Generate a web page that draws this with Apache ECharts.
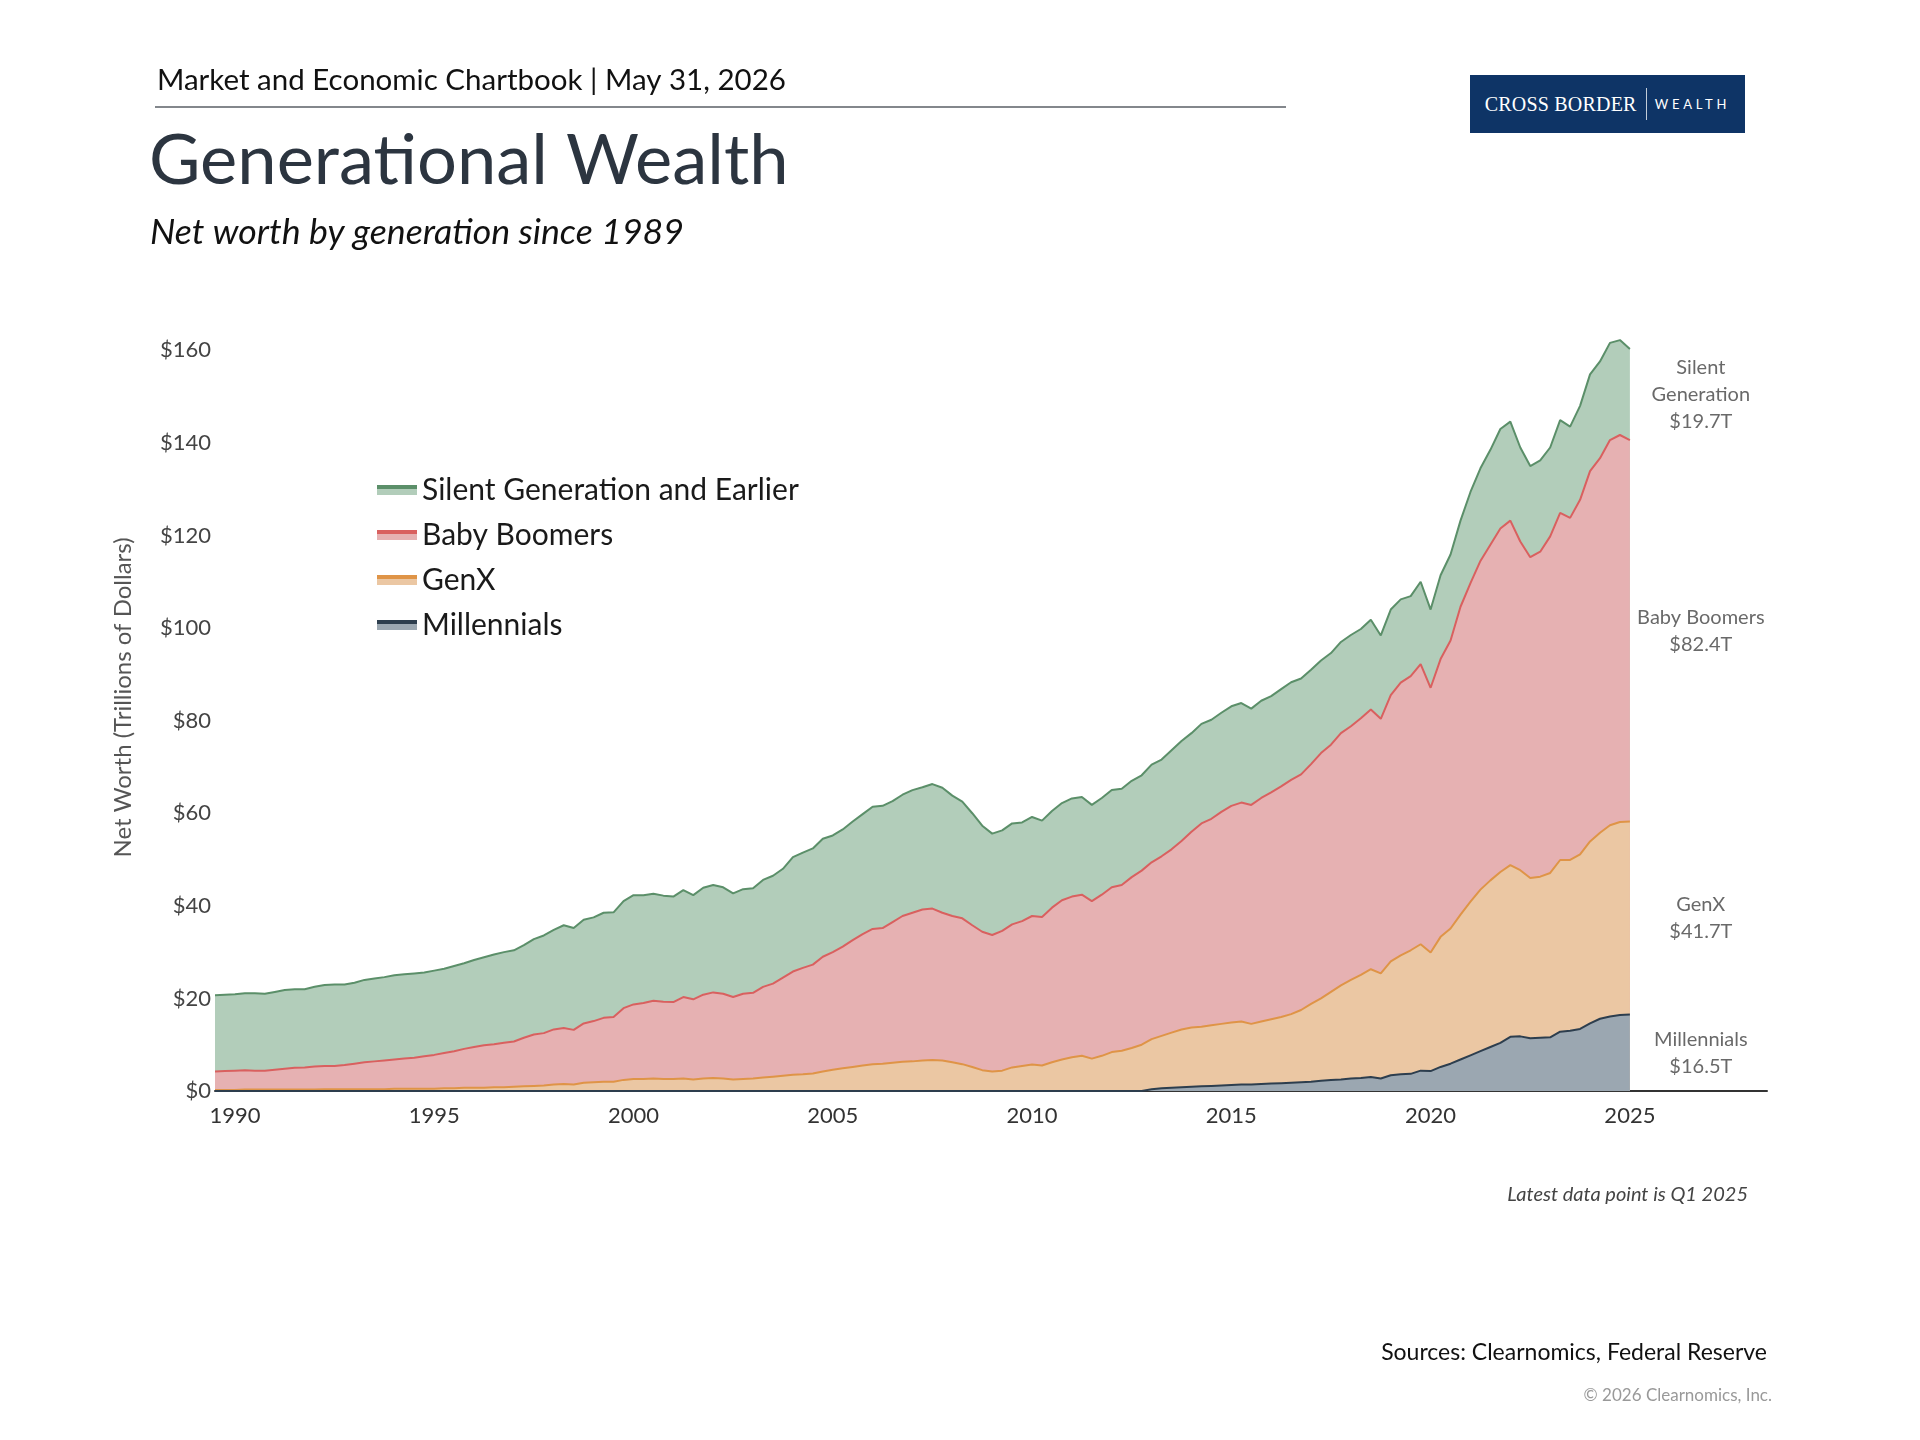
<!DOCTYPE html>
<html>
<head>
<meta charset="utf-8">
<title>Generational Wealth</title>
<script src="https://cdn.jsdelivr.net/npm/echarts@6/dist/echarts.min.js"></script>
<style>
  html, body { margin: 0; padding: 0; background: #fff; }
  #wrap { position: relative; width: 1920px; height: 1440px; }
  #main { width: 1920px; height: 1440px; }
  #logo {
    position: absolute; left: 1470px; top: 75px; width: 275px; height: 58px;
    background: #0e3466; color: #fff;
    display: flex; align-items: center; justify-content: center;
  }
  #logo .cb { font-family: "Liberation Serif", serif; font-size: 20px; letter-spacing: 0.2px; }
  #logo .bar { width: 1px; height: 32px; background: rgba(255,255,255,0.75); margin: 0 8px 0 9px; }
  #logo .w { font-family: Lato, sans-serif; font-size: 13px; letter-spacing: 3.8px; }
</style>
</head>
<body>
<div id="wrap">
  <div id="main"></div>
  <div id="logo"><span class="cb">CROSS BORDER</span><span class="bar"></span><span class="w">WEALTH</span></div>
</div>
<script>
var FONT = 'Lato, "Noto Sans", sans-serif';

// quarterly data, 1989 Q3 .. 2025 Q1 (trillions of dollars)
var firstQuarter = 1989.5;

var silentGen = [
  16.5, 16.5, 16.5, 16.6, 16.7, 16.6, 16.8, 17.0, 17.0, 16.9,
  17.2, 17.5, 17.6, 17.4, 17.5, 17.8, 17.9, 18.0, 18.2, 18.2,
  18.2, 18.1, 18.2, 18.2, 18.4, 18.5, 18.8, 19.0, 19.4, 19.6,
  19.7, 20.0, 20.6, 21.1, 21.5, 22.2, 22.0, 22.4, 22.4, 22.7,
  22.6, 23.1, 23.6, 23.3, 23.1, 22.9, 22.8, 23.1, 22.5, 23.1,
  23.2, 23.0, 22.4, 22.6, 22.6, 23.1, 23.3, 23.5, 24.7, 24.9,
  25.1, 25.5, 25.2, 25.3, 25.6, 25.9, 26.4, 26.4, 26.1, 26.2,
  26.5, 26.4, 26.9, 27.0, 26.0, 25.2, 24.2, 22.9, 21.9, 21.7,
  21.8, 21.3, 21.4, 20.8, 20.9, 21.0, 21.2, 21.1, 20.8, 20.9,
  21.0, 20.8, 20.8, 20.6, 21.1, 20.9, 21.4, 21.6, 21.3, 21.5,
  21.4, 21.4, 21.5, 21.5, 20.8, 21.0, 20.8, 21.0, 21.1, 20.7,
  20.4, 20.0, 19.8, 19.7, 19.7, 19.3, 19.4, 18.0, 18.5, 18.0,
  17.3, 17.8, 16.9, 18.1, 18.6, 18.6, 19.7, 20.0, 20.5, 21.5,
  21.4, 20.3, 19.7, 19.7, 19.2, 20.0, 19.7, 20.3, 20.9, 20.9,
  21.0, 20.5, 19.7
];

var babyBoomers = [
  4.0, 4.1, 4.2, 4.2, 4.1, 4.1, 4.3, 4.5, 4.7, 4.8,
  5.0, 5.0, 5.0, 5.2, 5.5, 5.8, 6.0, 6.2, 6.3, 6.5,
  6.7, 7.0, 7.3, 7.6, 8.0, 8.4, 8.8, 9.2, 9.3, 9.6,
  9.8, 10.5, 11.1, 11.3, 11.9, 12.1, 11.8, 12.8, 13.2, 13.8,
  14.0, 15.5, 16.1, 16.4, 16.8, 16.7, 16.6, 17.6, 17.3, 18.1,
  18.5, 18.3, 17.8, 18.4, 18.5, 19.6, 20.1, 21.2, 22.3, 23.0,
  23.5, 24.8, 25.4, 26.3, 27.4, 28.4, 29.2, 29.3, 30.4, 31.5,
  32.1, 32.6, 32.7, 31.9, 31.6, 31.5, 30.6, 29.9, 29.5, 30.2,
  30.9, 31.3, 32.1, 32.1, 33.4, 34.4, 34.7, 34.8, 34.0, 34.8,
  35.6, 35.8, 36.9, 37.6, 38.2, 38.8, 39.6, 40.7, 42.3, 43.9,
  44.6, 45.8, 46.8, 47.3, 47.3, 48.3, 49.0, 49.8, 50.6, 50.9,
  51.8, 53.0, 53.4, 54.5, 54.8, 55.4, 56.1, 55.0, 57.5, 58.9,
  59.2, 60.5, 57.2, 60.0, 62.2, 66.5, 68.8, 71.0, 72.5, 74.2,
  74.4, 71.0, 69.3, 70.2, 72.7, 75.0, 73.9, 76.6, 80.0, 80.9,
  83.2, 83.6, 82.4
];

var genX = [
  0.2, 0.2, 0.2, 0.3, 0.3, 0.3, 0.3, 0.3, 0.3, 0.3,
  0.3, 0.4, 0.4, 0.4, 0.4, 0.4, 0.4, 0.4, 0.5, 0.5,
  0.5, 0.5, 0.5, 0.6, 0.6, 0.7, 0.7, 0.7, 0.8, 0.8,
  0.9, 1.0, 1.1, 1.2, 1.4, 1.5, 1.4, 1.8, 1.9, 2.0,
  2.0, 2.4, 2.6, 2.6, 2.7, 2.6, 2.6, 2.7, 2.5, 2.7,
  2.8, 2.7, 2.5, 2.6, 2.7, 2.9, 3.1, 3.3, 3.5, 3.6,
  3.8, 4.2, 4.6, 4.9, 5.2, 5.5, 5.8, 5.9, 6.1, 6.3,
  6.4, 6.6, 6.7, 6.6, 6.2, 5.8, 5.2, 4.5, 4.2, 4.4,
  5.1, 5.4, 5.7, 5.5, 6.2, 6.8, 7.3, 7.6, 7.0, 7.6,
  8.4, 8.7, 9.3, 10.0, 10.8, 11.3, 11.9, 12.5, 12.8, 12.9,
  13.1, 13.3, 13.5, 13.6, 13.1, 13.5, 13.9, 14.3, 14.8, 15.6,
  16.8, 17.8, 19.0, 20.3, 21.3, 22.3, 23.3, 22.7, 24.6, 25.7,
  26.7, 27.3, 25.6, 28.1, 29.2, 31.3, 33.2, 34.9, 36.0, 36.9,
  37.1, 35.9, 34.6, 34.8, 35.5, 37.1, 36.9, 37.7, 39.3, 40.2,
  41.3, 41.7, 41.7
];

var millennials = [
  0, 0, 0, 0, 0, 0, 0, 0, 0, 0,
  0, 0, 0, 0, 0, 0, 0, 0, 0, 0,
  0, 0, 0, 0, 0, 0, 0, 0, 0, 0,
  0, 0, 0, 0, 0, 0, 0, 0, 0, 0,
  0, 0, 0, 0, 0, 0, 0, 0, 0, 0,
  0, 0, 0, 0, 0, 0, 0, 0, 0, 0,
  0, 0, 0, 0, 0, 0, 0, 0, 0, 0,
  0, 0, 0, 0, 0, 0, 0, 0, 0, 0,
  0, 0, 0, 0, 0, 0, 0, 0, 0, 0,
  0, 0, 0, 0, 0.4, 0.6, 0.7, 0.8, 0.9, 1.0,
  1.1, 1.2, 1.3, 1.4, 1.4, 1.5, 1.6, 1.7, 1.8, 1.9,
  2.0, 2.2, 2.4, 2.5, 2.7, 2.8, 3.0, 2.7, 3.4, 3.6,
  3.7, 4.4, 4.3, 5.2, 5.9, 6.8, 7.7, 8.6, 9.5, 10.4,
  11.7, 11.8, 11.4, 11.5, 11.6, 12.8, 13.0, 13.4, 14.6, 15.6,
  16.1, 16.4, 16.5
];

var xTicks = [1990, 1995, 2000, 2005, 2010, 2015, 2020, 2025];
var yTicks = [0, 20, 40, 60, 80, 100, 120, 140, 160];

var legendNames = ['Silent Generation and Earlier', 'Baby Boomers', 'GenX', 'Millennials'];
var endNames = ['Silent\nGeneration', 'Baby Boomers', 'GenX', 'Millennials'];

// line colour / fill colour per generation
var lineColors = ['#5b8f69', '#d9605f', '#df9447', '#2d3e4e'];
var fillColors = ['#b2cdba', '#e6b1b2', '#ebc7a3', '#9ba7b1'];

var quarterX = [];
for (var i = 0; i < silentGen.length; i++) {
  quarterX.push(firstQuarter + i * 0.25);
}

// stacked tops, built bottom-up (millennials first)
var bands = [silentGen, babyBoomers, genX, millennials];
var tops = [];
var running = quarterX.map(function () { return 0; });
for (var b = 3; b >= 0; b--) {
  running = running.map(function (s, j) { return Math.round((s + bands[b][j]) * 100) / 100; });
  tops[b] = running;
}

function areaSeries(idx, z) {
  return {
    name: legendNames[idx],
    type: 'line',
    z: z,
    data: tops[idx].map(function (v, j) { return [quarterX[j], v]; }),
    symbol: 'none',
    showSymbol: false,
    lineStyle: { color: lineColors[idx], width: 2 },
    itemStyle: { color: lineColors[idx] },
    areaStyle: { color: fillColors[idx], opacity: 1, origin: 'start' },
    emphasis: { disabled: true }
  };
}

// labels at right end, centred on each band
var last = silentGen.length - 1;
var labelX = 2026.78;
var endNotes = [];
for (var k = 0; k < 4; k++) {
  var v = bands[k][last];
  endNotes.push({
    value: [labelX, tops[k][last] - v / 2],
    label: { formatter: endNames[k] + '\n$' + v.toFixed(1) + 'T' }
  });
}

function legendItem(idx) {
  return {
    name: legendNames[idx],
    icon: 'rect',
    itemStyle: {
      borderWidth: 0,
      color: {
        type: 'linear', x: 0, y: 0, x2: 0, y2: 1,
        colorStops: [
          { offset: 0, color: lineColors[idx] },
          { offset: 0.38, color: lineColors[idx] },
          { offset: 0.38, color: fillColors[idx] },
          { offset: 1, color: fillColors[idx] }
        ]
      }
    }
  };
}

var chart = echarts.init(document.getElementById('main'));

var option = {
  backgroundColor: '#fff',
  animation: false,
  textStyle: { fontFamily: FONT },
  grid: {
    left: 215, right: 153, top: 304, bottom: 349,
    outerBoundsMode: 'none'
  },
  legend: {
    orient: 'vertical',
    left: 372,
    top: 470,
    itemWidth: 40,
    itemHeight: 10,
    itemGap: 15,
    selectedMode: false,
    textStyle: { fontSize: 30, color: '#1a1a1a', fontFamily: FONT },
    data: [legendItem(0), legendItem(1), legendItem(2), legendItem(3)]
  },
  xAxis: {
    type: 'value',
    min: firstQuarter,
    max: 2028.44,
    axisLine: { show: true, lineStyle: { color: '#333', width: 2 } },
    axisTick: { show: false },
    splitLine: { show: false },
    axisLabel: {
      customValues: xTicks,
      fontSize: 22,
      color: '#333',
      margin: 14,
      formatter: function (v) { return String(v); }
    }
  },
  yAxis: {
    type: 'value',
    min: 0,
    max: 170,
    name: 'Net Worth (Trillions of Dollars)',
    nameLocation: 'middle',
    nameRotate: 90,
    nameGap: 80,
    nameTextStyle: { fontSize: 24, color: '#555' },
    axisLine: { show: false },
    axisTick: { show: false },
    splitLine: { show: false },
    axisLabel: {
      customValues: yTicks,
      fontSize: 22,
      color: '#444',
      margin: 4,
      formatter: function (v) { return '$' + v; }
    }
  },
  series: [
    areaSeries(0, 2),
    areaSeries(1, 3),
    areaSeries(2, 4),
    areaSeries(3, 5),
    {
      type: 'scatter',
      silent: true,
      z: 10,
      symbolSize: 0,
      data: endNotes,
      label: {
        show: true,
        position: 'inside',
        fontSize: 20,
        lineHeight: 27,
        color: '#444',
        align: 'center'
      }
    }
  ],
  graphic: [
    {
      type: 'text', x: 157, y: 80,
      style: { text: 'Market and Economic Chartbook | May 31, 2026', font: '29.5px ' + FONT, fill: '#111', textAlign: 'left', textVerticalAlign: 'middle' }
    },
    {
      type: 'line',
      shape: { x1: 155, y1: 107, x2: 1286, y2: 107 },
      style: { stroke: '#5a5f66', lineWidth: 1.5 }
    },
    {
      type: 'text', x: 149, y: 161,
      style: { text: 'Generational Wealth', font: '70.5px ' + FONT, fill: '#2c3540', textAlign: 'left', textVerticalAlign: 'middle' }
    },
    {
      type: 'text', x: 150, y: 232,
      style: { text: 'Net worth by generation since 1989', font: 'italic 35.7px ' + FONT, fill: '#111', textAlign: 'left', textVerticalAlign: 'middle' }
    },
    {
      type: 'text', x: 1748, y: 1195,
      style: { text: 'Latest data point is Q1 2025', font: 'italic 20px ' + FONT, fill: '#444', textAlign: 'right', textVerticalAlign: 'middle' }
    },
    {
      type: 'text', x: 1767, y: 1353,
      style: { text: 'Sources: Clearnomics, Federal Reserve', font: '23px ' + FONT, fill: '#111', textAlign: 'right', textVerticalAlign: 'middle' }
    },
    {
      type: 'text', x: 1772, y: 1396,
      style: { text: '\u00a9 2026 Clearnomics, Inc.', font: '17px ' + FONT, fill: '#999', textAlign: 'right', textVerticalAlign: 'middle' }
    }
  ]
};

chart.setOption(option);
</script>
</body>
</html>
